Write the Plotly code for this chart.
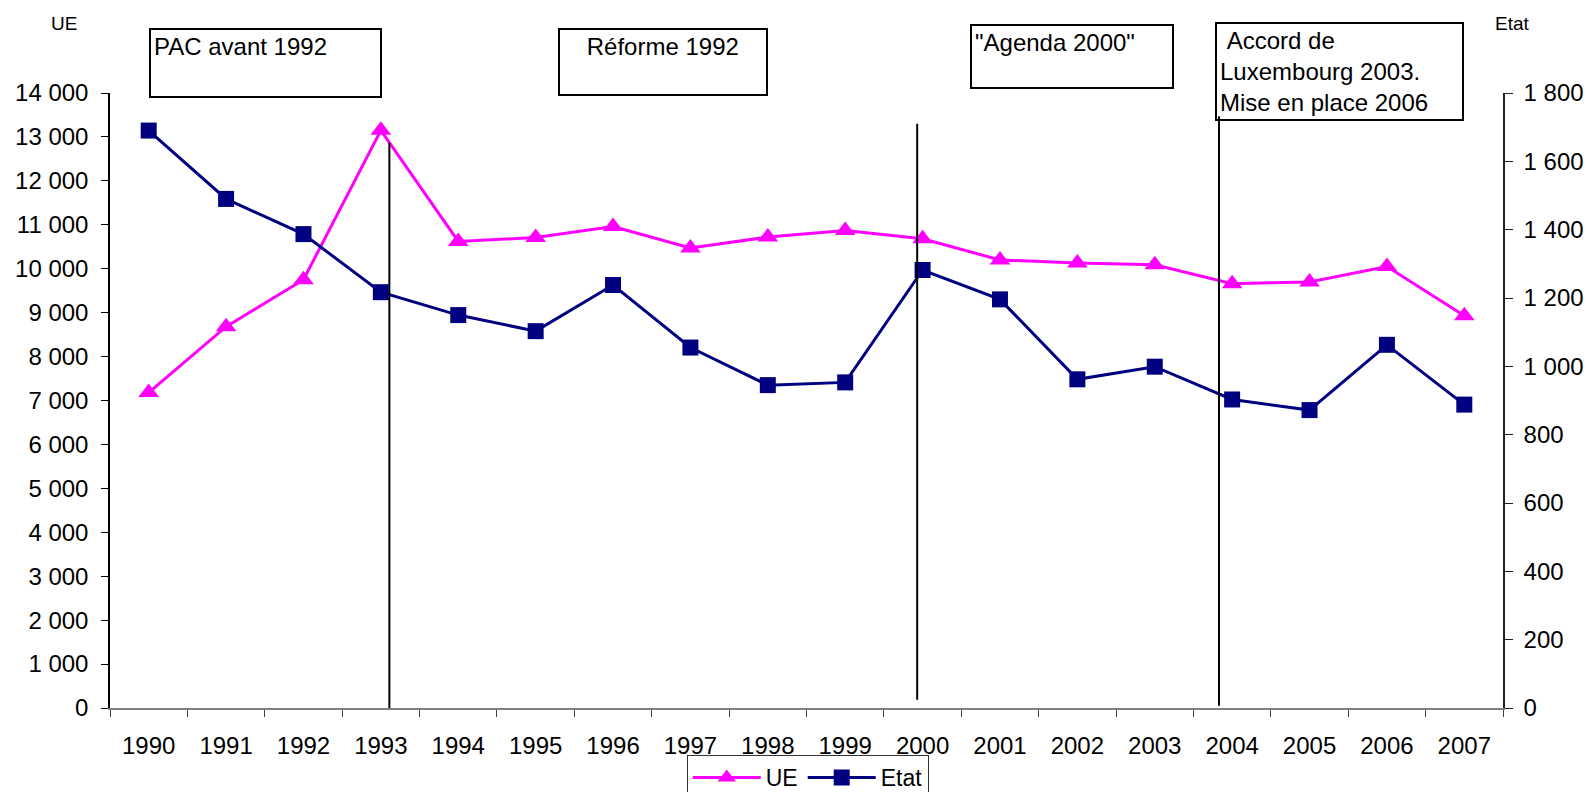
import plotly.graph_objects as go

# ---- data ----
years = [str(y) for y in range(1990, 2008)]
ue = [7180, 8680, 9750, 13150, 10620, 10710, 10960, 10470, 10720, 10870,
      10680, 10200, 10130, 10090, 9660, 9700, 10050, 8930]
etat = [1690, 1490, 1387, 1217, 1150, 1103, 1238, 1055, 945, 953,
        1282, 1196, 962, 999, 903, 872, 1063, 888]

# policy period separators (category position, top value, bottom value on UE axis)
sep_x = [3.11, 9.93, 13.83]
sep_top = [12870, 13300, 13470]
sep_bottom = [0, 190, 50]

box_labels = ["PAC avant 1992", "Réforme 1992", "\"Agenda 2000\"",
              "\u00a0Accord de<br>Luxembourg 2003.<br>Mise en place 2006"]

FONT = "Arial, Liberation Sans, sans-serif"
OFF = 8  # page body margin
W, H = 1592 - OFF, 792 - OFF
L = 110 - OFF
T = 93 - OFF
R = W - (1503.5 - OFF)
B = H - (708 - OFF)
PW, PH = W - L - R, H - T - B


def xp(px):
    return (px - OFF - L) / PW


def yp(py):
    return (H - B - (py - OFF)) / PH


fig = go.Figure()
fig.add_trace(go.Scatter(
    x=years, y=ue, name="UE", mode="lines+markers",
    line=dict(color="#FF00FF", width=3),
    marker=dict(symbol="triangle-up", size=18, color="#FF00FF"),
    yaxis="y"))
fig.add_trace(go.Scatter(
    x=years, y=etat, name="Etat", mode="lines+markers",
    line=dict(color="#000080", width=3),
    marker=dict(symbol="square", size=16, color="#000080"),
    yaxis="y2"))

for xv, yt, yb in zip(sep_x, sep_top, sep_bottom):
    fig.add_shape(type="line", xref="x", yref="y", x0=xv, x1=xv, y0=yb, y1=yt,
                  line=dict(color="black", width=2), layer="above")

boxes = [
    (149.5, 382.0, 28.0, 98.3, "left"),
    (557.7, 767.3, 28.0, 96.3, "center"),
    (970.7, 1174.7, 24.0, 89.3, "left"),
    (1215.0, 1464.0, 22.0, 121.3, "left"),
]
BW, BP = 2, 3
for text, (x0, x1, y0, y1, al) in zip(box_labels, boxes):
    fig.add_annotation(
        xref="paper", yref="paper", x=xp(x0), y=yp(y0),
        xanchor="left", yanchor="top", showarrow=False,
        text=text, align=al, valign="top",
        width=(x1 - x0) - 2 * (BW + BP), height=(y1 - y0) - 2 * (BW + BP),
        bordercolor="black", borderwidth=BW, borderpad=BP,
        font=dict(family=FONT, size=24, color="black"))

fig.add_annotation(xref="paper", yref="paper", x=xp(64), y=yp(23),
                   text="UE", showarrow=False, xanchor="center", yanchor="middle",
                   font=dict(family=FONT, size=19, color="black"))
fig.add_annotation(xref="paper", yref="paper", x=xp(1513), y=yp(23),
                   text="Etat", showarrow=False, xanchor="center", yanchor="middle",
                   font=dict(family=FONT, size=19, color="black"))

fig.update_layout(
    width=W, height=H,
    margin=dict(l=L, r=R, t=T, b=B, autoexpand=False),
    paper_bgcolor="white", plot_bgcolor="white",
    separators=", ",
    font=dict(family=FONT, size=23, color="black"),
    showlegend=True,
    legend=dict(orientation="h", x=xp(808), y=yp(755), xanchor="center",
                yanchor="top", bordercolor="#333333", borderwidth=1,
                bgcolor="white", font=dict(family=FONT, size=23, color="black"),
                itemwidth=68, tracegroupgap=0),
    xaxis=dict(type="category", range=[-0.5, 17.5], showgrid=False,
               zeroline=False, showline=True, linecolor="#808080", linewidth=2,
               ticks="outside", ticklen=7, tickcolor="#404040", tickwidth=1,
               tickson="boundaries", ticklabelstandoff=15,
               tickfont=dict(family=FONT, size=24, color="black")),
    yaxis=dict(range=[0, 14000], dtick=1000, tickformat=",d", showgrid=False,
               zeroline=False, showline=True, linecolor="black", linewidth=1.5,
               ticks="outside", ticklen=7, tickcolor="black", tickwidth=1,
               ticklabelstandoff=8,
               tickfont=dict(family=FONT, size=24, color="black")),
    yaxis2=dict(range=[0, 1800], dtick=200, tickformat=",d", overlaying="y",
                side="right", anchor="x", showgrid=False, zeroline=False,
                showline=True, linecolor="#202020", linewidth=1.5,
                ticks="outside", ticklen=8, tickcolor="#202020", tickwidth=1,
                ticklabelstandoff=6,
                tickfont=dict(family=FONT, size=24, color="black")),
)

fig.write_html("out.html")
